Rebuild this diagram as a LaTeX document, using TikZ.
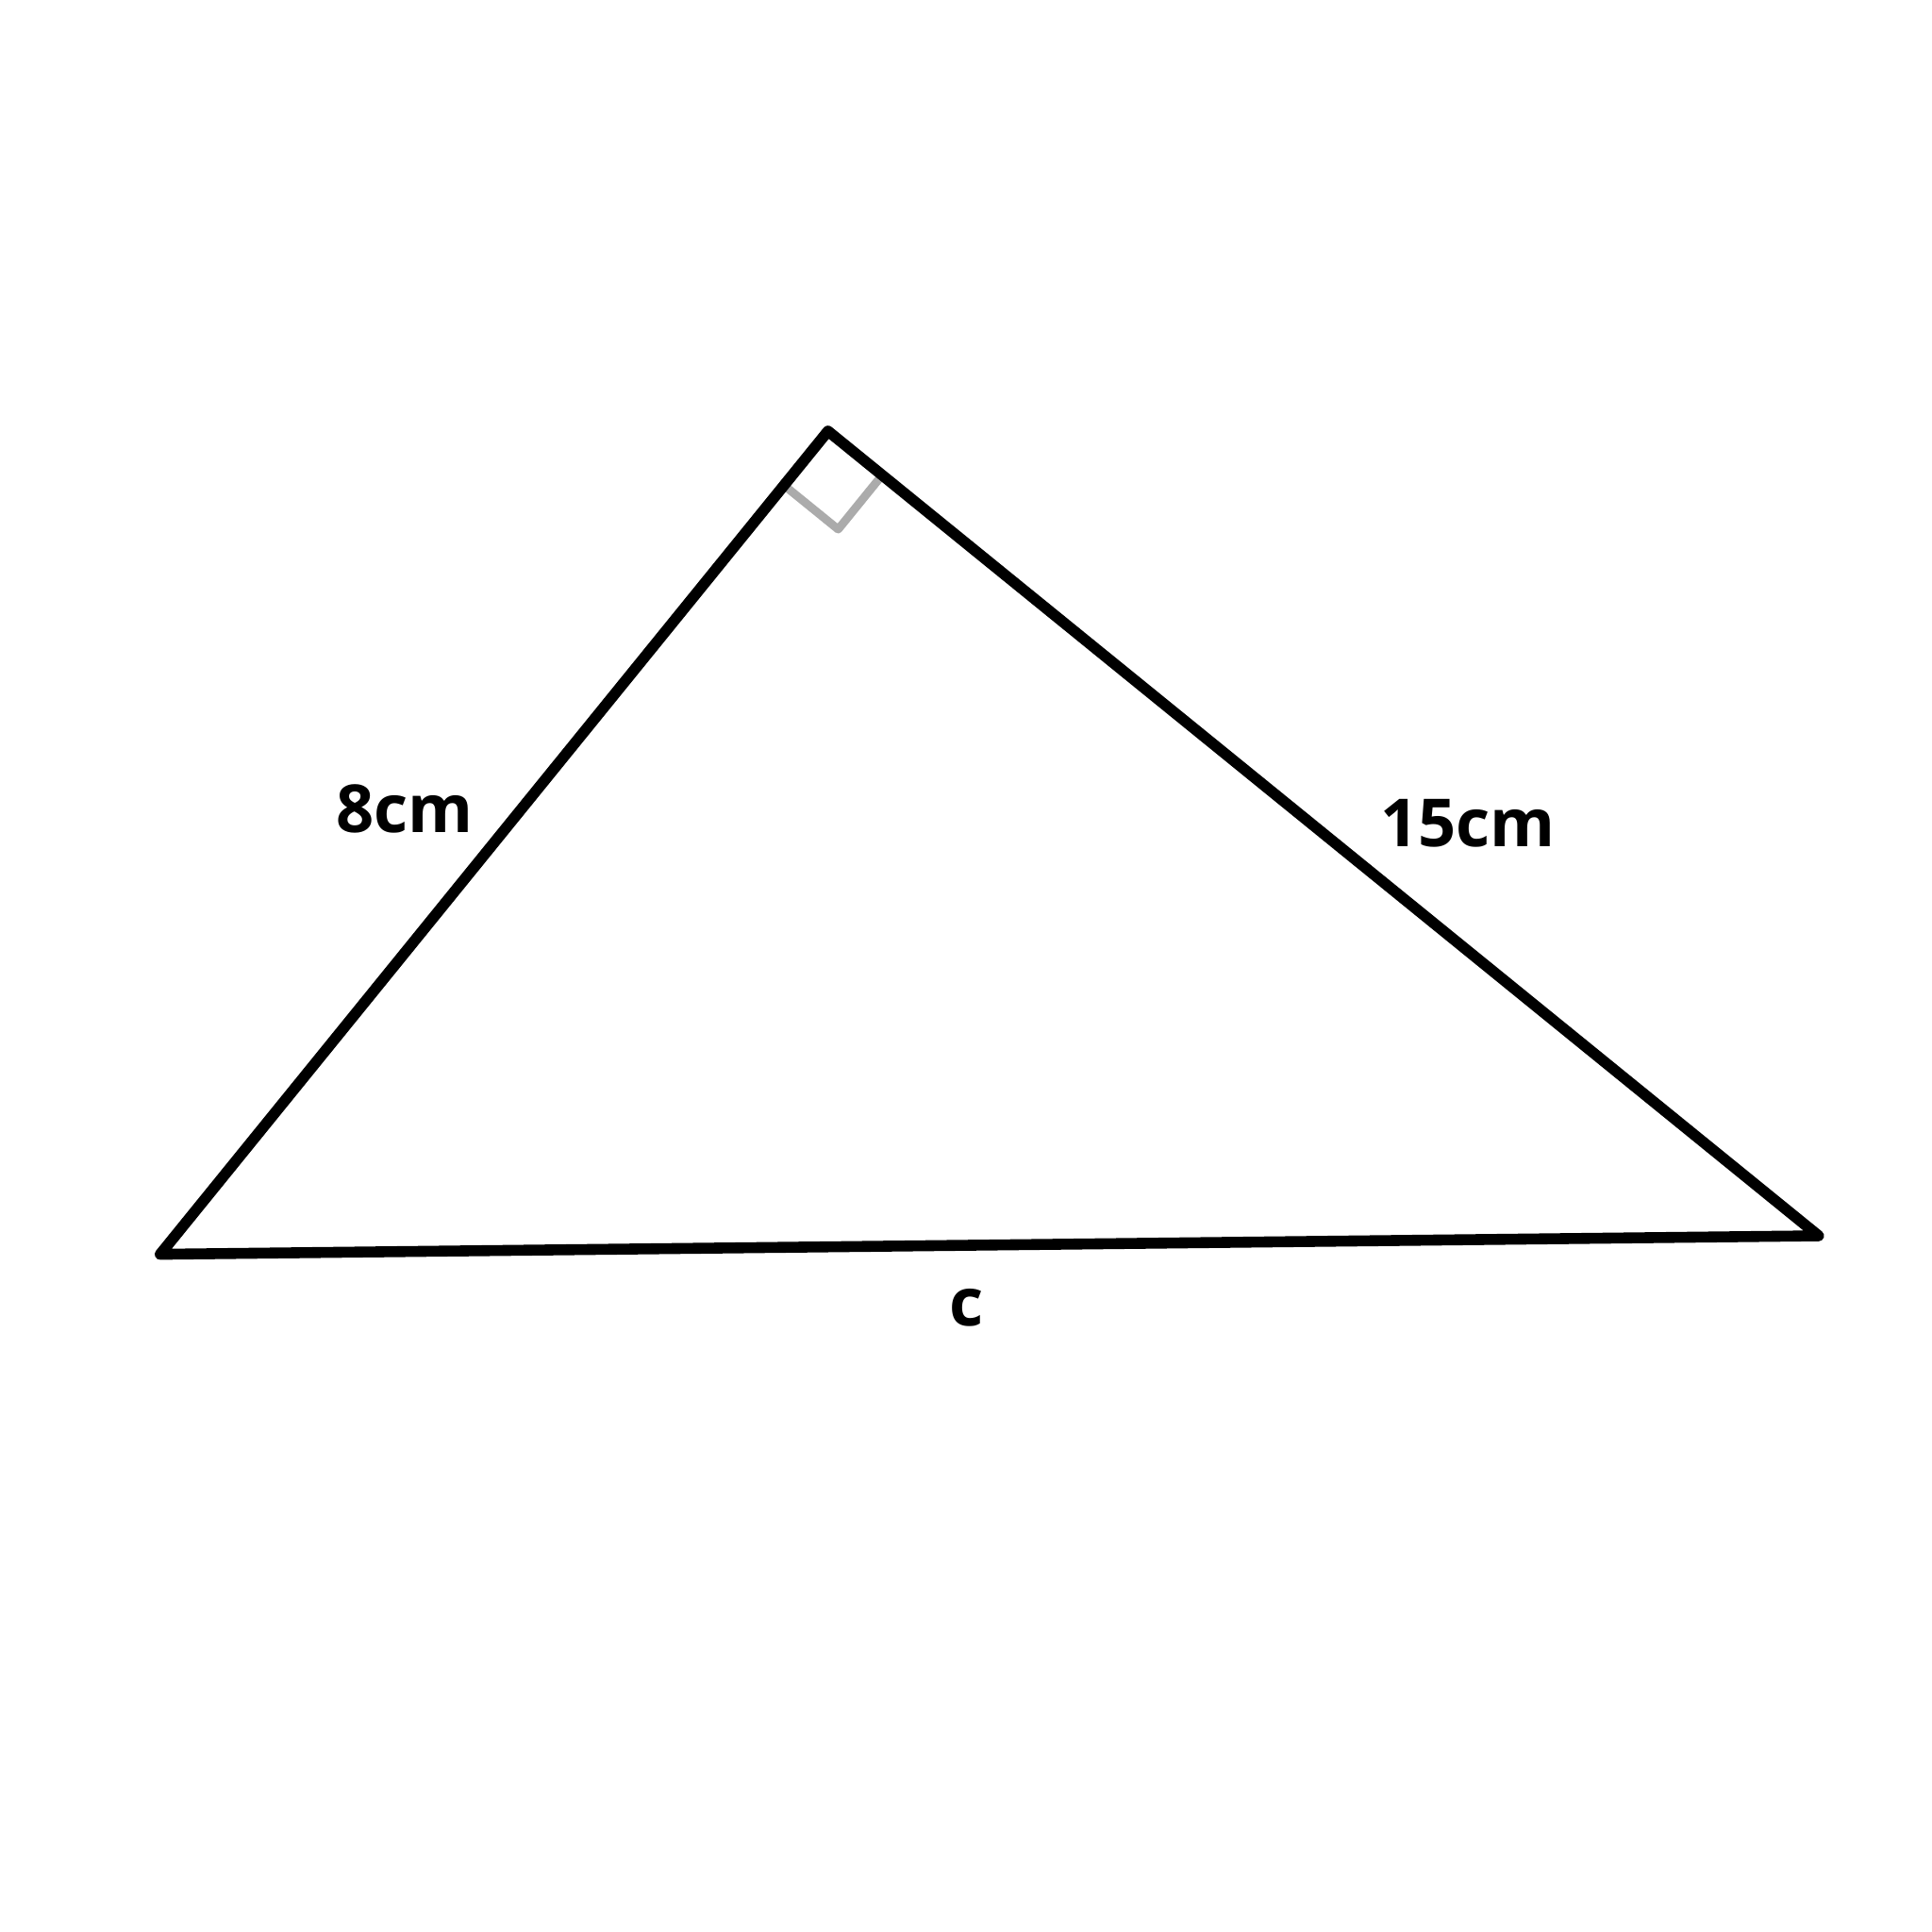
\documentclass[tikz,border=0pt]{standalone}
\usepackage{fontspec}
\setmainfont{Open Sans}
\usetikzlibrary{calc}

\begin{document}
\begin{tikzpicture}[line join=round, line cap=round, font=\bfseries\fontsize{20}{24}\selectfont,
	side/.style={line width=3.3pt, black},
	rightmark/.style={line width=2.5pt, black!33}]
	\useasboundingbox (0, 0) rectangle (20.48, 20.48);
	% Các đỉnh tam giác
	\coordinate (top) at (8.777, 15.91);
	\coordinate (left) at (1.698, 7.184);
	\coordinate (right) at (19.278, 7.38);
	% Ký hiệu góc vuông
	\coordinate (mleft) at ($(top)!0.74cm!(left)$);
	\coordinate (mright) at ($(top)!0.74cm!(right)$);
	\draw[rightmark] (mleft) -- ($(mleft)+(mright)-(top)$) -- (mright);
	% Tam giác
	\draw[side] (top) -- (left) -- (right) -- cycle;
	% Nhãn các cạnh
	\node (lab8) at (4.29, 11.91) {8cm};
	\node (lab15) at (15.56, 11.75) {15cm};
	\node (labc) at (10.25, 6.62) {c};
\end{tikzpicture}
\end{document}
